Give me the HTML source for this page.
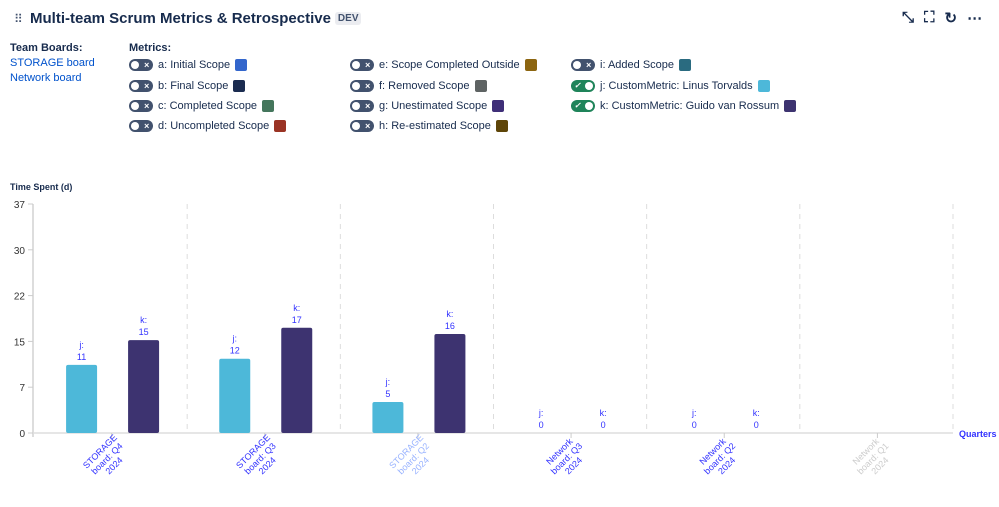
<!DOCTYPE html>
<html><head><meta charset="utf-8">
<style>
body{margin:0;width:999px;height:507px;background:#fff;font-family:"Liberation Sans",sans-serif;color:#172b4d;position:relative;overflow:hidden}
.abs{position:absolute}
.title{left:30px;top:10px;font-size:15px;font-weight:bold;color:#172b4d}
.dev{display:inline-block;background:#ebecf0;font-size:10px;font-weight:bold;padding:1px 3px;border-radius:3px;margin-left:4px;vertical-align:2px;color:#42526e}
.lbl{font-size:11px;font-weight:bold;color:#172b4d}
.link{font-size:11px;color:#0052cc}
.m{position:absolute;font-size:11px;color:#172b4d;display:flex;align-items:center;height:16px}
.tg{width:24px;height:12px;border-radius:7px;background:#42526e;position:relative;margin-right:5px}
.tg .k{position:absolute;left:2px;top:2px;width:8px;height:8px;border-radius:50%;background:#fff}
.tg .s{position:absolute;left:13px;top:0;width:9px;height:12px;line-height:12px;text-align:center;font-size:9px;color:#fff;font-weight:bold}
.tg.on{background:#1f845a}
.tg.on .k{left:14px}
.tg.on .s{left:2px;font-size:8px}
.sw{width:12px;height:12px;border-radius:2px;margin-left:5px;display:inline-block}
</style></head><body>
<div class="abs" style="left:14px;top:12px;font-size:12px;color:#42526e">⠿</div>
<div class="abs title">Multi-team Scrum Metrics &amp; Retrospective<span class="dev">DEV</span></div>
<div class="abs" style="left:902px;top:9px;font-size:15px;color:#172b4d;display:flex;gap:10px;font-weight:bold">
<span>⤡</span><span>⛶</span><span>↻</span><span>⋯</span></div>
<div class="abs lbl" style="left:10px;top:42px">Team Boards:</div>
<div class="abs link" style="left:10px;top:57px">STORAGE board</div>
<div class="abs link" style="left:10px;top:72px">Network board</div>
<div class="abs lbl" style="left:129px;top:42px">Metrics:</div>

<div class="m" style="left:129px;top:57px"><span class="tg"><i class="k"></i><i class="s">×</i></span>a: Initial Scope<span class="sw" style="background:#3366cc"></span></div>
<div class="m" style="left:129px;top:78px"><span class="tg"><i class="k"></i><i class="s">×</i></span>b: Final Scope<span class="sw" style="background:#1b2c50"></span></div>
<div class="m" style="left:129px;top:98px"><span class="tg"><i class="k"></i><i class="s">×</i></span>c: Completed Scope<span class="sw" style="background:#44765c"></span></div>
<div class="m" style="left:129px;top:118px"><span class="tg"><i class="k"></i><i class="s">×</i></span>d: Uncompleted Scope<span class="sw" style="background:#9a3324"></span></div>
<div class="m" style="left:350px;top:57px"><span class="tg"><i class="k"></i><i class="s">×</i></span>e: Scope Completed Outside<span class="sw" style="background:#8c6510"></span></div>
<div class="m" style="left:350px;top:78px"><span class="tg"><i class="k"></i><i class="s">×</i></span>f: Removed Scope<span class="sw" style="background:#5e6363"></span></div>
<div class="m" style="left:350px;top:98px"><span class="tg"><i class="k"></i><i class="s">×</i></span>g: Unestimated Scope<span class="sw" style="background:#3f2f78"></span></div>
<div class="m" style="left:350px;top:118px"><span class="tg"><i class="k"></i><i class="s">×</i></span>h: Re-estimated Scope<span class="sw" style="background:#5e4508"></span></div>
<div class="m" style="left:571px;top:57px"><span class="tg"><i class="k"></i><i class="s">×</i></span>i: Added Scope<span class="sw" style="background:#2a6b80"></span></div>
<div class="m" style="left:571px;top:78px"><span class="tg on"><i class="k"></i><i class="s">✓</i></span>j: CustomMetric: Linus Torvalds<span class="sw" style="background:#4db8d9"></span></div>
<div class="m" style="left:571px;top:98px"><span class="tg on"><i class="k"></i><i class="s">✓</i></span>k: CustomMetric: Guido van Rossum<span class="sw" style="background:#3d3370"></span></div>

<svg class="abs" style="left:0;top:0" width="999" height="507" id="chart"></svg>
<script>
const categories=["STORAGE|board: Q4|2024","STORAGE|board: Q3|2024","STORAGE|board: Q2|2024","Network|board: Q3|2024","Network|board: Q2|2024","Network|board: Q1|2024"];
const catColors=["#3333ff","#3333ff","#99b3ff","#3333ff","#3333ff","#cccccc"];
const jValues=[11,12,5,0,0,null];
const kValues=[15,17,16,0,0,null];
const tickValues=[0,7.4,14.8,22.2,29.6,37];
const tickLabels=["0","7","15","22","30","37"];
const yMax=37;
const svg=document.getElementById('chart');
const NS='http://www.w3.org/2000/svg';
const x0=34,x1=953,y0=433,yTop=204;
const cw=(x1-x0)/categories.length;
function yS(v){return y0-(v/yMax)*(y0-yTop);}
function xC(i){return x0+cw*(i+0.5);}
function mk(t,a,p){const e=document.createElementNS(NS,t);for(const k in a)e.setAttribute(k,a[k]);(p||svg).appendChild(e);return e;}
let e=mk('text',{x:10,y:190,'font-size':9,'font-weight':'bold',fill:'#172b4d'});e.textContent='Time Spent (d)';


e=mk('line',{x1:33,y1:yTop,x2:33,y2:y0+4,stroke:'#ddd','stroke-width':2});


tickValues.forEach((v,i)=>{
 mk('line',{x1:28,x2:33,y1:yS(v),y2:yS(v),stroke:'#ccc'});
 const t=mk('text',{x:25,y:yS(v)+4,'font-size':10,fill:'#333','text-anchor':'end'});t.textContent=tickLabels[i];
 
 
});
for(let i=1;i<=categories.length;i++){const x=x0+cw*i;
 e=mk('line',{x1:x,x2:x,y1:yTop,y2:y0,stroke:'#ddd','stroke-dasharray':'5,5'});
 
 }
e=mk('line',{x1:33,x2:x1,y1:y0,y2:y0,stroke:'#ddd','stroke-width':1.5});


e=mk('text',{x:959,y:437,'font-size':9,'font-weight':'bold',fill:'#3333ff'});e.textContent='Quarters';


const series=[{n:'j',vals:jValues,c:'#4db8d9',off:-29},{n:'k',vals:kValues,c:'#3d3370',off:33}];
categories.forEach((c,i)=>{
 const cx=xC(i);
 mk('line',{x1:cx+1,x2:cx+1,y1:y0,y2:y0+5,stroke:'#ccc'});
 series.forEach(s=>{const v=s.vals[i];if(v===null)return;
  const bx=cx+s.off-15.5;
  if(v>0){const r=mk('rect',{x:bx,y:yS(v),width:31,height:y0-yS(v),rx:2,fill:s.c});
   
   }
  const t1=mk('text',{x:cx+s.off,y:yS(v)-17,'font-size':9,fill:'#3333ff','text-anchor':'middle'});t1.textContent=s.n+':';
  
  
  const t2=mk('text',{x:cx+s.off,y:yS(v)-5,'font-size':9,fill:'#3333ff','text-anchor':'middle'});t2.textContent=String(v);
  
  
 });
 const g=mk('g',{transform:`translate(${cx+12},${y0+10}) rotate(-45)`,fill:catColors[i],'font-size':9});
 
 
 c.split('|').forEach((ln,k)=>{const t=mk('text',{x:-22,y:(k-1)*10+3,'text-anchor':'middle'},g);t.textContent=ln;});
});
</script>
</body></html>
